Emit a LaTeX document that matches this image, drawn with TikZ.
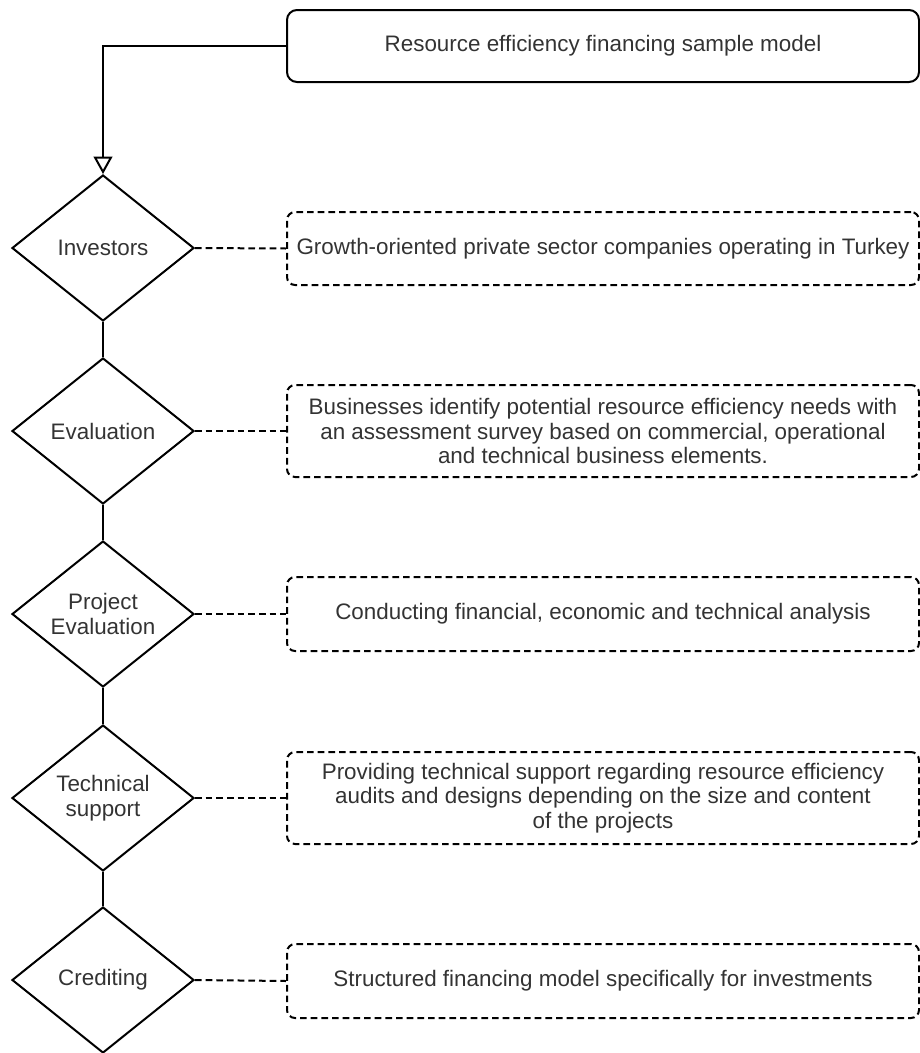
\documentclass[tikz,border=0pt]{standalone}
\usepackage{fontspec}
\setmainfont{Liberation Sans}
\usetikzlibrary{shapes.geometric,arrows.meta}

\definecolor{txtgrey}{RGB}{51,51,51}
\newcommand{\lbl}{\fontsize{16.8}{18.4}\selectfont}

\tikzset{every picture/.style={line width=1.5pt}}
\tikzset{
  diam/.style={diamond, draw, inner sep=0pt, minimum width=136.5pt, minimum height=109.5pt, align=center, text=txtgrey, font=\lbl},
  note/.style={draw, dash pattern={on 5pt off 3pt}, rounded corners=6pt, minimum width=474pt, align=center, text=txtgrey, font=\lbl},
  hdr/.style={draw, rounded corners=7.5pt, minimum width=474pt, minimum height=54pt, text=txtgrey, font=\lbl},
  link/.style={dash pattern={on 5pt off 3pt}},
}

\begin{document}
\begin{tikzpicture}[x=0.75pt,y=0.75pt,yscale=-1,xscale=1]
\useasboundingbox (0,0) rectangle (920,1053);

% Title
\node[hdr] (title) at (603,46) {Resource efficiency financing sample model};

% Steps
\node[diam] (inv) at (103,248) {Investors};
\node[diam] (eval) at (103,431) {Evaluation};
\node[diam] (proj) at (103,614) {Project\\Evaluation};
\node[diam] (tech) at (103,798) {Technical\\support};
\node[diam] (cred) at (103,980) {Crediting};

% Notes
\node[note, minimum height=54.75pt] (invnote) at (603,248.5) {Growth-oriented private sector companies operating in Turkey};
\node[note, minimum height=69pt] (evalnote) at (603,431) {Businesses identify potential resource efficiency needs with\\an assessment survey based on commercial, operational\\and technical business elements.};
\node[note, minimum height=55.5pt] (projnote) at (603,614) {Conducting financial, economic and technical analysis};
\node[note, minimum height=69pt] (technote) at (603,798) {Providing technical support regarding resource efficiency\\audits and designs depending on the size and content\\of the projects};
\node[note, minimum height=55.5pt] (crednote) at (603,981) {Structured financing model specifically for investments};

% Flow
\draw[-{Triangle[open,length=13pt,width=14pt]}] (title.west) -| (inv.north);
\draw (inv.south) -- (eval.north);
\draw (eval.south) -- (proj.north);
\draw (proj.south) -- (tech.north);
\draw (tech.south) -- (cred.north);

% Links to notes
\draw[link] (inv.east) -- (invnote.west);
\draw[link] (eval.east) -- (evalnote.west);
\draw[link] (proj.east) -- (projnote.west);
\draw[link] (tech.east) -- (technote.west);
\draw[link] (cred.east) -- (crednote.west);

\end{tikzpicture}
\end{document}
